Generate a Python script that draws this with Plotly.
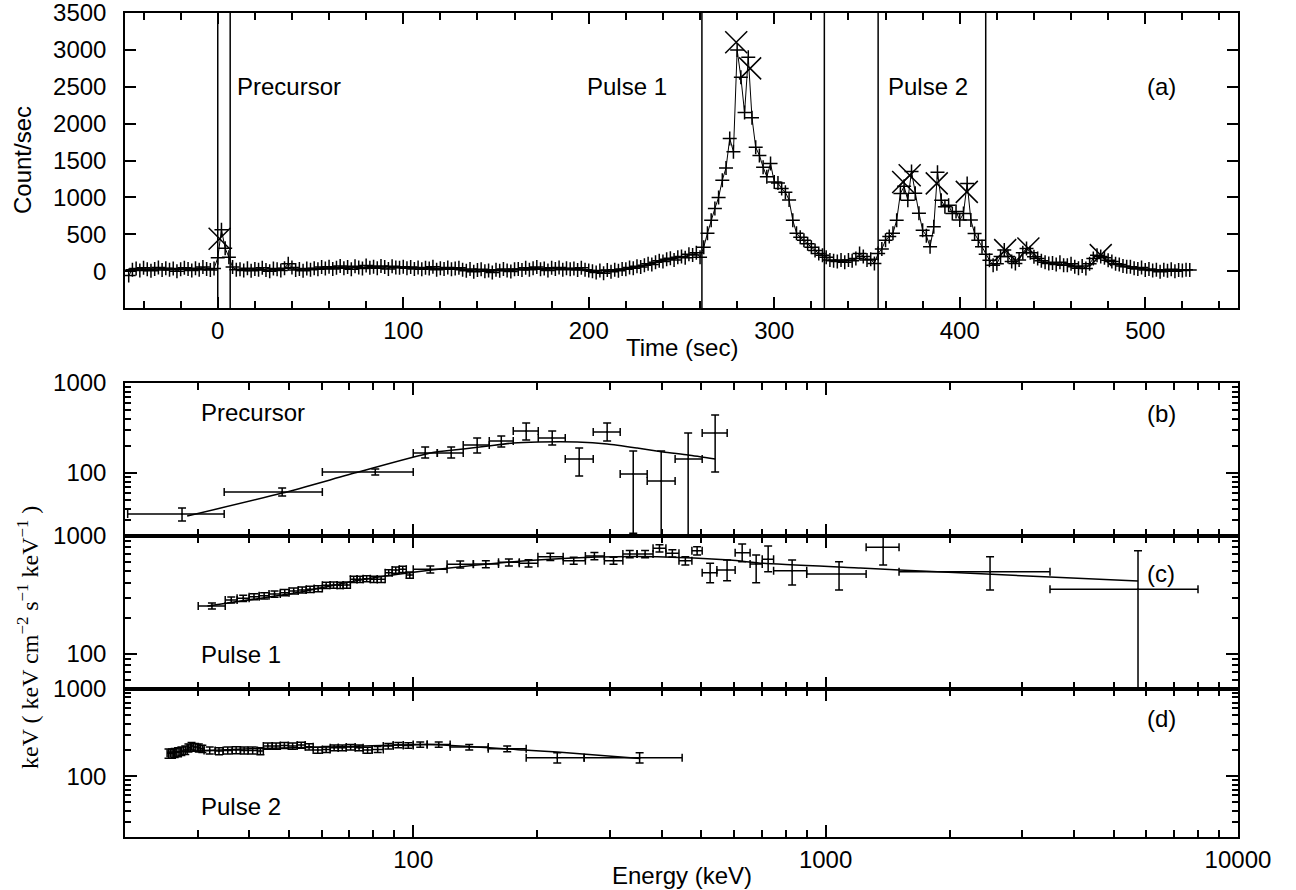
import math
import plotly.graph_objects as go

W, H = 1296, 890
SANS = "Liberation Sans, Arial, Helvetica, sans-serif"
SERIF = "Liberation Serif, Times New Roman, serif"

# ---------------- Panel (a): light curve ----------------
lc_t0 = -48   # centre of first time bin (s)
lc_dt = 2     # bin width (s)
lc_counts = [
    # -48 .. -2
    -60, 20, 35, 10, 45, 25, 5, 30, 50, 15, 40, 20, 35, 0, 25, 45, 30, 10, 40, 20, 55, 30, 15, 35,
    # 0 .. 10  (precursor)
    180, 560, 310, 190, 55, 20,
    # 12 .. 50
    25, 10, 40, 5, 30, 20, 45, 15, 0, 35, 25, 10, 40, 100, 50, 15, 30, 5, 35, 20,
    # 52 .. 100
    40, 25, 55, 35, 60, 30, 45, 70, 40, 55, 25, 65, 50, 35, 75, 45, 60, 40, 70, 55, 30, 65, 50, 45, 60,
    # 102 .. 130
    40, 55, 30, 50, 25, 45, 35, 60, 20, 40, 30, 50, 25, 35, 45,
    # 132 .. 160
    20, 5, 30, -10, 15, 25, 0, 10, -20, 20, 5, 30, 10, -5, 25,
    # 162 .. 200
    30, 15, 45, 20, 40, 55, 25, 35, 10, 45, 30, 50, 20, 40, 25, 35, 15, 45, 20, 10,
    # 202 .. 258
    0, -20, 10, -30, 15, -10, 20, 5, 30, 25, 50, 40, 65, 55, 80, 100, 90, 120, 140, 130,
    160, 175, 150, 190, 200, 180, 230, 220, 250,
    # 260 .. 352  (pulse 1)
    190, 325, 515, 690, 850, 1000, 1234, 1400, 1800, 1620, 3000, 2630, 2150, 2900, 2080,
    1680, 1570, 1410, 1280, 1460, 1210, 1195, 1120, 1070, 965, 690, 515, 460, 420, 370,
    325, 280, 240, 217, 190, 150, 140, 130, 150, 120, 150, 140, 170, 240, 200, 150, 160,
    # 354 .. 418  (pulse 2)
    104, 240, 300, 420, 470, 515, 690, 1053, 1150, 963, 1350, 1058, 786, 556, 480, 330,
    601, 1340, 963, 872, 895, 782, 810, 692, 782, 1190, 692, 511, 420, 330, 230, 149, 81,
    # 420 .. 524
    100, 200, 285, 200, 130, 104, 150, 250, 308, 250, 195, 170, 140, 120, 104, 110, 90,
    120, 80, 81, 100, 60, 40, 70, 36, 100, 170, 217, 200, 180, 149, 130, 100, 90, 70, 58,
    60, 40, 30, 50, 14, 30, 10, 20, -9, 20, 5, 25, 0, 15, 10, 20, 14,
]
peak_t = [1, 279.5, 287, 369.5, 373, 387.6, 403.8, 424.5, 437, 476]
peak_c = [440, 3105, 2750, 1210, 1300, 1190, 1075, 285, 308, 217]
window_edges = [0, 6.7, 261, 327, 356, 414]
time_ticks = [0, 100, 200, 300, 400, 500]
time_minor = [-40, -20, 20, 40, 60, 80, 120, 140, 160, 180, 220, 240, 260, 280,
              320, 340, 360, 380, 420, 440, 460, 480, 520, 540]
count_ticks = [0, 500, 1000, 1500, 2000, 2500, 3000, 3500]

# ---------------- Panel (b): precursor spectrum ----------------
E_pre = [27.5, 48.1, 80.9, 106.9, 123.6, 142.9, 163.5, 187.9, 217.3, 252.6, 295.3, 341.6, 399.3, 464.2, 539.7]
E_pre_lo = [20.3, 34.8, 60.2, 100, 114.4, 132.2, 152.9, 174.8, 201, 233.7, 273.2, 317.6, 369.3, 431.6, 502]
E_pre_hi = [34.8, 60.2, 100, 114.4, 132.2, 152.9, 174.8, 201, 233.7, 273.2, 317.6, 369.3, 431.6, 502, 577.2]
F_pre = [35.0, 61.5, 102.6, 166.8, 166.8, 204.8, 226.8, 292.9, 244.9, 143.1, 285.6, 97.5, 81.5, 143.1, 278.3]
F_pre_up = [40.8, 68.1, 110.7, 194.5, 194.5, 244.9, 257.8, 359.4, 292.9, 189.6, 359.4, 175.6, 175.6, 278.3, 440.6]
F_pre_dn = [29.3, 55.5, 95.0, 146.8, 146.8, 166.8, 194.5, 232.8, 204.8, 92.6, 226.8, 21.5, 5, 5, 102.6]
Em_pre = [28.3, 48.1, 73.6, 110, 132.2, 152, 174.8, 201, 249.8, 295.3, 349.1, 403.6, 464.2, 539.7]
Fm_pre = [33.3, 59.9, 102.6, 166.8, 184.8, 199.5, 215.4, 221, 221, 210.3, 189.6, 171.2, 158.5, 143.1]

# ---------------- Panel (c): pulse 1 spectrum ----------------
E_p1 = [32.5, 36.2, 38.7, 41.1, 43.5, 46.1, 48.8, 51.3, 53.8, 56.2, 58.8, 61.5, 64.1, 66.5, 69.0,
        71.7, 74.3, 77.1, 80.2, 83.6, 87.2, 90.7, 94.3, 98.1, 110.0, 130.0, 150.0, 170.6, 190.4,
        215.0, 245.0, 275.0, 306.0, 335.0, 365.0, 395.5, 425.0, 457.0, 488.0, 524.8, 576.9,
        627.6, 678.6, 725.6, 829.5, 1078, 1379, 2505, 5723]
E_p1_lo = [30.1, 35.0, 37.4, 40.0, 42.3, 44.7, 47.6, 50.0, 52.6, 55.0, 57.5, 60.2, 62.9, 65.4, 67.6,
           70.4, 73.1, 75.6, 78.7, 81.8, 85.5, 88.9, 92.5, 96.2, 100, 120.8, 139.9, 161, 180.8,
           200.6, 231, 261.5, 290.7, 322.4, 349, 381.6, 410, 441, 474, 502, 545,
           603.5, 656, 702, 748, 900, 1254, 1507, 3501]
E_p1_hi = [35.0, 37.4, 40.0, 42.3, 44.7, 47.6, 50.0, 52.6, 55.0, 57.5, 60.2, 62.9, 65.4, 67.6, 70.4,
           73.1, 75.6, 78.7, 81.8, 85.5, 88.9, 92.5, 96.2, 100, 120.8, 139.9, 161, 180.8, 200.6,
           231, 261.5, 290.7, 322.4, 349, 381.6, 410, 441, 474, 502, 545, 603.5,
           656, 702, 748, 900, 1254, 1507, 3501, 8000]
F_p1 = [254, 286, 295, 305, 311, 321, 330, 341, 348, 352, 357, 381, 383, 381, 383,
        428, 428, 434, 428, 428, 488, 514, 521, 466, 521, 574, 577, 597, 586,
        667, 617, 676, 617, 703, 703, 786, 713, 617, 750, 488, 514,
        721, 578, 634, 507, 475, 802, 497, 352]
F_p1_up = [269, 303, 313, 323, 330, 340, 350, 361, 369, 373, 378, 404, 406, 404, 406,
           454, 454, 460, 454, 454, 517, 545, 552, 494, 557, 614, 617, 639, 627,
           714, 660, 723, 660, 752, 752, 841, 763, 666, 810, 586, 625,
           855, 689, 822, 625, 605, 975, 667, 750]
F_p1_dn = [239, 269, 277, 287, 292, 302, 310, 321, 327, 331, 336, 358, 360, 358, 360,
           402, 402, 408, 402, 402, 459, 483, 490, 438, 485, 534, 537, 555, 545,
           620, 574, 629, 574, 654, 654, 731, 663, 568, 690, 401, 417,
           605, 401, 497, 383, 348, 567, 348, 5]
Em_p1 = [31.7, 53.2, 74.4, 116.3, 199.7, 279, 390.4, 586, 705.5, 1213, 1507, 3501, 5723]
Fm_p1 = [254, 334, 423, 524, 625, 663, 667, 625, 586, 535, 514, 448, 414]

# ---------------- Panel (d): pulse 2 spectrum ----------------
E_p2 = [25.5, 26.0, 26.4, 26.9, 27.4, 28.0, 28.5, 29.0, 29.6, 30.2, 30.8, 32.1, 33.8, 35.5, 37.2,
        38.9, 40.8, 42.6, 44.4, 46.5, 48.7, 51.0, 53.5, 55.9, 58.7, 61.5, 64.3, 67.3, 70.5,
        73.9, 77.5, 82.0, 87.0, 92.0, 97.3, 104.0, 115.3, 136.7, 169.0, 223.5, 354.0]
E_p2_lo = [25.3, 25.76, 26.2, 26.6, 27.2, 27.7, 28.3, 28.8, 29.3, 29.96, 30.46, 31.1, 33.1, 34.6, 36.4,
           38.1, 39.8, 41.9, 43.3, 45.5, 47.6, 49.8, 52.3, 54.7, 57.2, 60.2, 62.9, 65.8, 68.8,
           72.3, 75.6, 79.5, 84.6, 89.4, 94.6, 100, 108.1, 122.9, 152, 187.9, 259.7]
E_p2_hi = [25.76, 26.2, 26.6, 27.2, 27.7, 28.3, 28.8, 29.3, 29.96, 30.46, 31.1, 33.1, 34.6, 36.4, 38.1,
           39.8, 41.9, 43.3, 45.5, 47.6, 49.8, 52.3, 54.7, 57.2, 60.2, 62.9, 65.8, 68.8, 72.3,
           75.6, 79.5, 84.6, 89.4, 94.6, 100, 108.1, 122.9, 152, 187.9, 259.7, 448.9]
F_p2 = [182.6, 182.6, 185.8, 189, 194, 199, 211.7, 221.2, 215.4, 211.7, 206.2, 197.4, 194, 197.4, 199,
        197.4, 197.4, 194, 221.2, 221.2, 225.1, 221.2, 227, 217.3, 199, 202.6, 211.7, 211.7, 215.4,
        211.7, 199, 202.6, 221.2, 227, 225.1, 231, 231, 215.4, 206.2, 163, 163]
F_p2_err = [22, 22, 22, 22, 22, 22, 22, 22, 22, 22, 20, 18, 18, 18, 18,
            18, 18, 18, 18, 18, 18, 18, 18, 18, 16, 16, 16, 16, 16,
            16, 16, 16, 16, 16, 16, 16, 16, 16, 16, 22, 22]
Em_p2 = [25.3, 42.6, 70.3, 110, 185.1, 223.5, 354.9]
Fm_p2 = [187.5, 208, 219, 231, 199, 189, 159]

energy_ticks = [100, 1000, 10000]
energy_minor = [30, 40, 50, 60, 70, 80, 90, 200, 300, 400, 500, 600, 700, 800, 900,
                2000, 3000, 4000, 5000, 6000, 7000, 8000, 9000]
flux_ticks = [100, 1000]
flux_minor = [30, 40, 50, 60, 70, 80, 90, 200, 300, 400, 500, 600, 700, 800, 900]

# ---------------- layout geometry ----------------
X0, X1 = 125 / W, 1238 / W
def ydom(top_px, bot_px):
    return [1 - bot_px / H, 1 - top_px / H]

DOM_A = ydom(13, 308)
DOM_B = ydom(383, 536)
DOM_C = ydom(536, 689)
DOM_D = ydom(689, 837)

def axis(**kw):
    d = dict(showline=True, linecolor="black", linewidth=1.5, mirror="allticks",
             ticks="inside", ticklen=11, tickwidth=1.5, tickcolor="black",
             showgrid=False, zeroline=False, automargin=False,
             ticklabeloverflow="allow",
             tickfont=dict(family=SANS, size=24, color="black"))
    d.update(kw)
    return d

def minor(vals, ln=6):
    return dict(ticks="inside", ticklen=ln, tickwidth=1.5, tickcolor="black",
                tickvals=vals, showgrid=False)

fig = go.Figure()

# panel a
lc_time = [lc_t0 + i * lc_dt for i in range(len(lc_counts))]
fig.add_trace(go.Scatter(x=lc_time, y=lc_counts, mode="lines+markers",
                         line=dict(color="black", width=1),
                         marker=dict(symbol="cross-thin", size=10, color="black",
                                     line=dict(color="black", width=1.5)),
                         xaxis="x", yaxis="y"))
fig.add_trace(go.Scatter(x=peak_t, y=peak_c, mode="markers",
                         marker=dict(symbol="x-thin", size=22, color="black",
                                     line=dict(color="black", width=1.5)),
                         xaxis="x", yaxis="y"))

def spec(E, lo, hi, F, up, dn, xa, ya):
    return go.Scatter(
        x=E, y=F, mode="markers", xaxis=xa, yaxis=ya,
        marker=dict(size=2, color="black"),
        error_x=dict(type="data", symmetric=False,
                     array=[h - e for h, e in zip(hi, E)],
                     arrayminus=[e - l for e, l in zip(E, lo)],
                     width=4, thickness=1.5, color="black"),
        error_y=dict(type="data", symmetric=False,
                     array=[u - f for u, f in zip(up, F)],
                     arrayminus=[f - d for f, d in zip(F, dn)],
                     width=4, thickness=1.5, color="black"))

def model(E, F, xa, ya):
    return go.Scatter(x=E, y=F, mode="lines", xaxis=xa, yaxis=ya,
                      line=dict(color="black", width=1.5, shape="spline", smoothing=0.6))

fig.add_trace(spec(E_pre, E_pre_lo, E_pre_hi, F_pre, F_pre_up, F_pre_dn, "x2", "y2"))
fig.add_trace(model(Em_pre, Fm_pre, "x2", "y2"))
fig.add_trace(spec(E_p1, E_p1_lo, E_p1_hi, F_p1, F_p1_up, F_p1_dn, "x3", "y3"))
fig.add_trace(model(Em_p1, Fm_p1, "x3", "y3"))
fig.add_trace(spec(E_p2, E_p2_lo, E_p2_hi, F_p2,
                   [f + e for f, e in zip(F_p2, F_p2_err)],
                   [f - e for f, e in zip(F_p2, F_p2_err)], "x4", "y4"))
fig.add_trace(model(Em_p2, Fm_p2, "x4", "y4"))

erange = [math.log10(20), 4.0001]
etext = [str(v) for v in energy_ticks]
ftext = [str(v) for v in flux_ticks]

fig.update_layout(
    width=W, height=H, margin=dict(l=0, r=0, t=0, b=0, pad=0, autoexpand=False),
    template="none",
    paper_bgcolor="white", plot_bgcolor="white", showlegend=False,
    xaxis=axis(domain=[X0, X1], anchor="y", range=[-50, 550],
               tickvals=time_ticks, ticktext=[str(v) for v in time_ticks],
               minor=minor(time_minor, 7), ticklabelstandoff=0),
    yaxis=axis(domain=DOM_A, anchor="x", range=[-500, 3501],
               tickvals=count_ticks, ticktext=[str(v) for v in count_ticks],
               ticklabelstandoff=12),
    xaxis2=axis(domain=[X0, X1], anchor="y2", type="log", range=erange,
                tickvals=energy_ticks, ticktext=etext, showticklabels=False,
                ticklen=12, minor=minor(energy_minor, 7)),
    yaxis2=axis(domain=DOM_B, anchor="x2", type="log", range=[math.log10(20), 3.0001],
                tickvals=flux_ticks, ticktext=ftext, ticklen=12,
                minor=minor(flux_minor), ticklabelstandoff=12),
    xaxis3=axis(domain=[X0, X1], anchor="y3", type="log", range=erange,
                tickvals=energy_ticks, ticktext=etext, showticklabels=False,
                ticklen=12, minor=minor(energy_minor, 7)),
    yaxis3=axis(domain=DOM_C, anchor="x3", type="log", range=[math.log10(50), 3.0001],
                tickvals=flux_ticks, ticktext=ftext, ticklen=12,
                minor=minor(flux_minor), ticklabelstandoff=12),
    xaxis4=axis(domain=[X0, X1], anchor="y4", type="log", range=erange,
                tickvals=energy_ticks, ticktext=etext, ticklen=12,
                minor=minor(energy_minor, 7), ticklabelstandoff=0),
    yaxis4=axis(domain=DOM_D, anchor="x4", type="log", range=[math.log10(20), 3.0001],
                tickvals=flux_ticks, ticktext=ftext, ticklen=12,
                minor=minor(flux_minor), ticklabelstandoff=12),
)

for t in window_edges:
    fig.add_shape(type="line", xref="x", yref="y domain", x0=t, x1=t, y0=0, y1=1,
                  line=dict(color="black", width=1.5))

def ann(text, px, py, xanchor="center", family=SANS, size=24, angle=0,
        xref="paper", yref="paper", x=None, y=None):
    fig.add_annotation(text=text, showarrow=False,
                       x=(px / W) if x is None else x, y=(1 - py / H) if y is None else y,
                       xref=xref, yref=yref, xanchor=xanchor, yanchor="middle",
                       textangle=angle, font=dict(family=family, size=size, color="black"))

# panel (a) labels in data coordinates
ann("Precursor", 0, 0, xanchor="left", xref="x", yref="y", x=9.5, y=2500)
ann("Pulse 1", 0, 0, xanchor="right", xref="x", yref="y", x=243, y=2500)
ann("Pulse 2", 0, 0, xanchor="left", xref="x", yref="y", x=360, y=2500)
ann("(a)", 0, 0, xanchor="center", xref="x", yref="y", x=508.5, y=2500)

ann("Precursor", 199, 412, xanchor="left")
ann("(b)", 1161, 413)
ann("Pulse 1", 199, 654, xanchor="left")
ann("(c)", 1161, 573)
ann("Pulse 2", 199, 806, xanchor="left")
ann("(d)", 1161, 718)

ann("Count/sec", 22, 160, angle=-90)
ann("Time (sec)", 682, 347)
ann("Energy (keV)", 682, 875)
ann("keV ( keV cm<sup>\u22122</sup> s<sup>\u22121</sup> keV<sup>\u22121</sup> )", 28, 638,
    family=SERIF, size=24, angle=-90)

fig.write_html("out.html", config={"displayModeBar": False},
               post_script="document.body.style.margin='0';")
